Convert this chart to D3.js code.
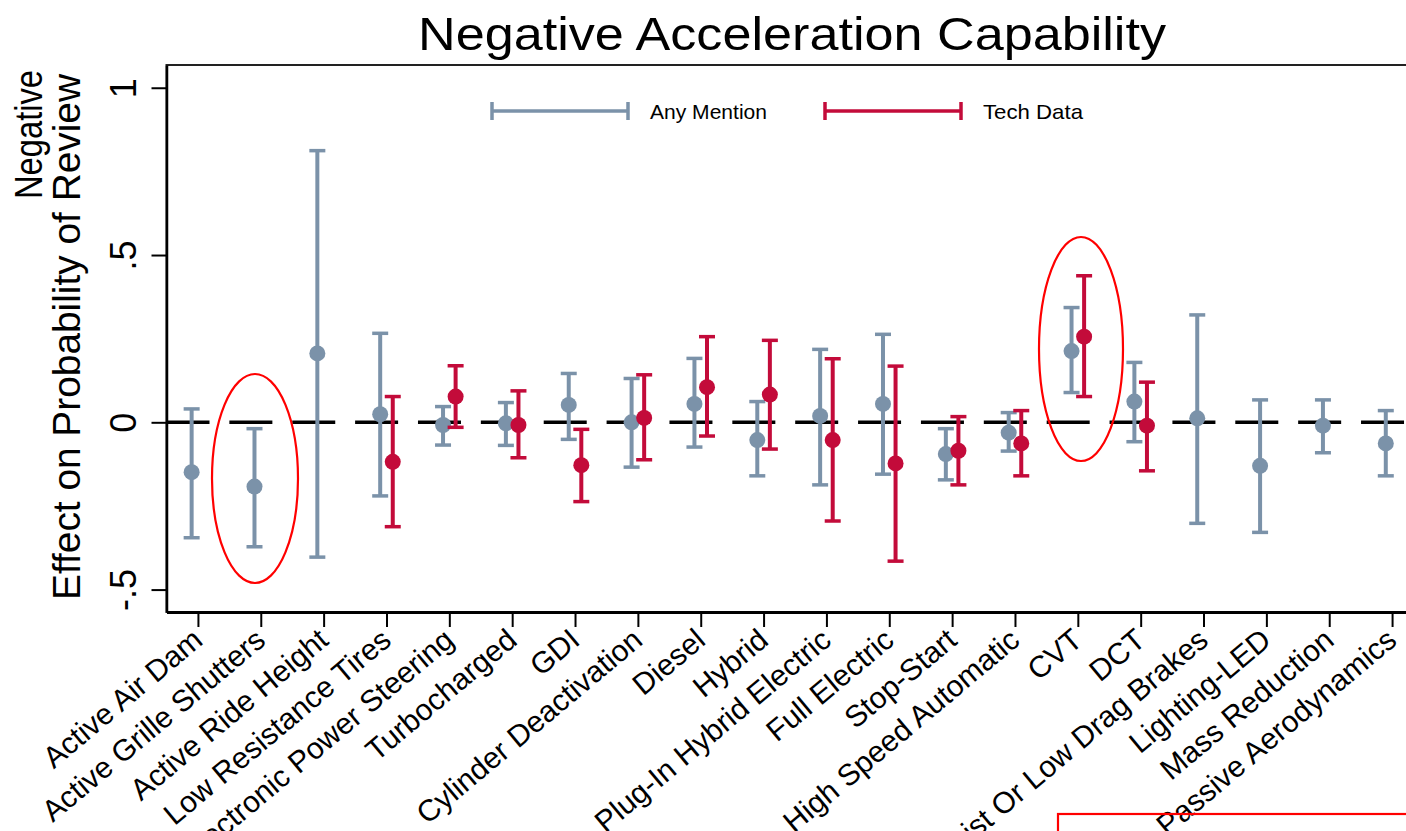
<!DOCTYPE html>
<html>
<head>
<meta charset="utf-8">
<script src="https://cdn.jsdelivr.net/npm/d3@7"></script>
<style>
  html, body { margin: 0; padding: 0; background: #fff; }
  svg { display: block; }
  text { font-family: "Liberation Sans", Arial, sans-serif; fill: #000; }
</style>
</head>
<body>
<svg id="chart" width="1406" height="831"></svg>
<script>
// Technologies along the x axis
const categories = [
  "Active Air Dam", "Active Grille Shutters", "Active Ride Height",
  "Low Resistance Tires", "Electronic Power Steering", "Turbocharged",
  "GDI", "Cylinder Deactivation", "Diesel", "Hybrid",
  "Plug-In Hybrid Electric", "Full Electric", "Stop-Start",
  "High Speed Automatic", "CVT", "DCT", "Assist Or Low Drag Brakes",
  "Lighting-LED", "Mass Reduction", "Passive Aerodynamics"
];

// "Any Mention" estimates with confidence bounds
const anyEst = [-0.149, -0.192, 0.206, 0.024, -0.008, -0.003, 0.052, 0.000, 0.055, -0.053,
                 0.019, 0.055, -0.095, -0.031, 0.213, 0.062, 0.012, -0.130, -0.010, -0.063];
const anyLo  = [-0.345, -0.372, -0.403, -0.220, -0.068, -0.069, -0.051, -0.134, -0.074, -0.160,
                -0.187, -0.155, -0.172, -0.086, 0.089, -0.058, -0.302, -0.329, -0.091, -0.160];
const anyHi  = [0.040, -0.019, 0.812, 0.266, 0.047, 0.059, 0.146, 0.131, 0.191, 0.062,
                0.218, 0.263, -0.019, 0.029, 0.343, 0.179, 0.321, 0.067, 0.067, 0.035];

// "Tech Data" estimates (null where the technology has none)
const techEst = [null, null, null, -0.118, 0.077, -0.008, -0.128, 0.013, 0.105, 0.083,
                 -0.053, -0.123, -0.085, -0.063, 0.256, -0.010, null, null, null, null];
const techLo  = [null, null, null, -0.312, -0.015, -0.106, -0.237, -0.112, -0.041, -0.080,
                 -0.295, -0.415, -0.187, -0.160, 0.077, -0.145, null, null, null, null];
const techHi  = [null, null, null, 0.077, 0.169, 0.094, -0.021, 0.142, 0.256, 0.245,
                 0.190, 0.168, 0.017, 0.035, 0.438, 0.120, null, null, null, null];

const yTicks = [-0.5, 0, 0.5, 1];
const seriesNames = ["Any Mention", "Tech Data"];

const GRAY = "#7b92a9";
const RED = "#c30b3a";

const svg = d3.select("#chart");
const W = 1406, H = 831;
const plot = { left: 166.5, right: 1423.5, top: 65, bottom: 612 };

svg.append("rect").attr("width", W).attr("height", H).attr("fill", "#fff");

const x = d3.scaleLinear().domain([0.5, 20.5]).range([plot.left, plot.right]);
const y = d3.scaleLinear().domain([-0.567, 1.068]).range([plot.bottom, plot.top]);

// Title
svg.append("text")
  .attr("x", 792).attr("y", 50)
  .attr("text-anchor", "middle")
  .attr("font-size", 47)
  .attr("textLength", 748).attr("lengthAdjust", "spacingAndGlyphs")
  .text("Negative Acceleration Capability");

// Plot frame
svg.append("rect")
  .attr("x", plot.left).attr("y", plot.top)
  .attr("width", plot.right - plot.left).attr("height", plot.bottom - plot.top)
  .attr("fill", "none").attr("stroke", "#222").attr("stroke-width", 2);

// Zero reference line
svg.append("line")
  .attr("x1", plot.left).attr("x2", plot.right)
  .attr("y1", y(0)).attr("y2", y(0))
  .attr("stroke", "#000").attr("stroke-width", 3.5)
  .attr("stroke-dasharray", "43 19.87");

// Y axis
const fmt = v => v === 0 ? "0" : String(v).replace("0.", ".");
const yAxis = svg.append("g")
  .attr("transform", `translate(${plot.left},0)`)
  .call(d3.axisLeft(y).tickValues(yTicks).tickFormat(fmt).tickSize(15).tickSizeOuter(0));
yAxis.select(".domain").attr("stroke", "#000").attr("stroke-width", 2.5);
yAxis.selectAll(".tick line").attr("stroke", "#000").attr("stroke-width", 2);
yAxis.selectAll(".tick text")
  .attr("font-family", "Liberation Sans, Arial, sans-serif")
  .attr("font-size", 36)
  .attr("fill", "#000")
  .attr("text-anchor", "middle")
  .attr("x", 0).attr("y", -31).attr("dy", 0)
  .attr("transform", "rotate(-90)");

// X axis
const xAxis = svg.append("g")
  .attr("transform", `translate(0,${plot.bottom})`)
  .call(d3.axisBottom(x).tickValues(d3.range(1, 21)).tickFormat(i => categories[i - 1]).tickSize(15).tickSizeOuter(0));
xAxis.select(".domain").attr("stroke", "#000").attr("stroke-width", 3);
xAxis.selectAll(".tick line").attr("stroke", "#000").attr("stroke-width", 2);
xAxis.selectAll(".tick text")
  .attr("font-family", "Liberation Sans, Arial, sans-serif")
  .attr("font-size", 30)
  .attr("fill", "#000")
  .attr("text-anchor", "end")
  .attr("x", 0).attr("y", 0).attr("dy", 0)
  .attr("transform", "translate(6,31) rotate(-40)");

// Y axis title
svg.append("text")
  .attr("transform", "translate(80,74) rotate(-90)")
  .attr("text-anchor", "end")
  .attr("font-size", 38.5)
  .attr("textLength", 526).attr("lengthAdjust", "spacingAndGlyphs")
  .text("Effect on Probability of Review");
svg.append("text")
  .attr("transform", "translate(42,70) rotate(-90)")
  .attr("text-anchor", "end")
  .attr("font-family", "Lato, 'Open Sans', sans-serif")
  .attr("font-size", 38)
  .attr("textLength", 129).attr("lengthAdjust", "spacingAndGlyphs")
  .text("Negative");

// Error bars and point estimates
function drawSeries(est, lo, hi, offset, color) {
  const rows = categories.map((c, i) => ({ i: i + 1, e: est[i], l: lo[i], h: hi[i] }))
    .filter(d => d.e !== null);
  const g = svg.append("g");
  const capHalf = 8;
  g.selectAll("line.bar").data(rows).join("line")
    .attr("x1", d => x(d.i + offset)).attr("x2", d => x(d.i + offset))
    .attr("y1", d => y(d.l)).attr("y2", d => y(d.h))
    .attr("stroke", color).attr("stroke-width", 4);
  g.selectAll("line.capHi").data(rows).join("line")
    .attr("x1", d => x(d.i + offset) - capHalf).attr("x2", d => x(d.i + offset) + capHalf)
    .attr("y1", d => y(d.h)).attr("y2", d => y(d.h))
    .attr("stroke", color).attr("stroke-width", 3.5);
  g.selectAll("line.capLo").data(rows).join("line")
    .attr("x1", d => x(d.i + offset) - capHalf).attr("x2", d => x(d.i + offset) + capHalf)
    .attr("y1", d => y(d.l)).attr("y2", d => y(d.l))
    .attr("stroke", color).attr("stroke-width", 3.5);
  g.selectAll("circle").data(rows).join("circle")
    .attr("cx", d => x(d.i + offset)).attr("cy", d => y(d.e))
    .attr("r", 8).attr("fill", color);
}
drawSeries(anyEst, anyLo, anyHi, -0.1, GRAY);
drawSeries(techEst, techLo, techHi, 0.1, RED);

// Legend
const legend = [
  { name: seriesNames[0], color: GRAY, x0: 492, x1: 628, tx: 650, tl: 117 },
  { name: seriesNames[1], color: RED, x0: 825, x1: 961, tx: 983, tl: 100 }
];
const ly = 111;
legend.forEach(d => {
  const g = svg.append("g");
  g.append("line").attr("x1", d.x0).attr("x2", d.x1).attr("y1", ly).attr("y2", ly)
    .attr("stroke", d.color).attr("stroke-width", 3.5);
  [d.x0, d.x1].forEach(xx => g.append("line")
    .attr("x1", xx).attr("x2", xx).attr("y1", ly - 9).attr("y2", ly + 9)
    .attr("stroke", d.color).attr("stroke-width", 3.5));
  g.append("text").attr("x", d.tx).attr("y", ly + 8)
    .attr("font-size", 21)
    .attr("textLength", d.tl).attr("lengthAdjust", "spacingAndGlyphs")
    .text(d.name);
});

// Highlight annotations
const notes = svg.append("g").attr("fill", "none").attr("stroke", "#ff0000").attr("stroke-width", 2.2);
notes.append("ellipse").attr("cx", 255).attr("cy", 478.5).attr("rx", 43).attr("ry", 104.5);
notes.append("ellipse").attr("cx", 1081).attr("cy", 349).attr("rx", 42).attr("ry", 112);
notes.append("rect").attr("x", 1058).attr("y", 814).attr("width", 420).attr("height", 60);
</script>
</body>
</html>
